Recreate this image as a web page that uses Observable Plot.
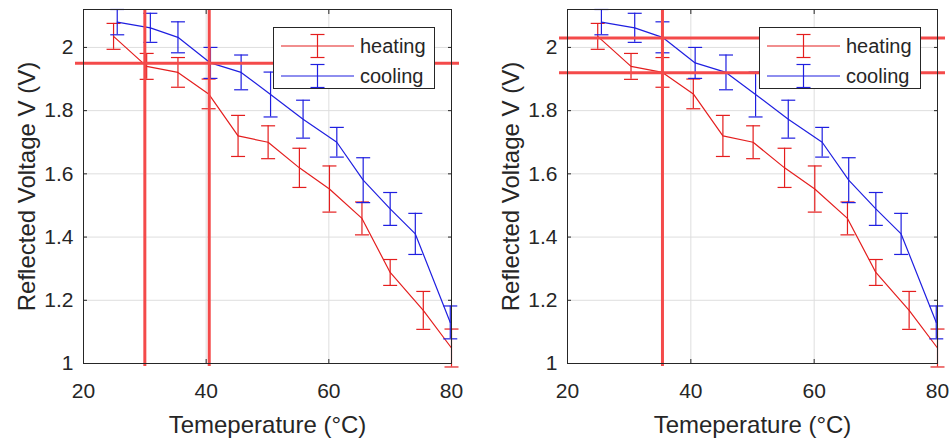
<!DOCTYPE html>
<html><head><meta charset="utf-8">
<script src="https://cdn.jsdelivr.net/npm/d3@7"></script>
<script src="https://cdn.jsdelivr.net/npm/@observablehq/plot@0.6"></script>
<style>
html,body{margin:0;padding:0;background:#fff;}
#wrap{position:relative;width:952px;height:446px;overflow:hidden;font-family:"Liberation Sans",Arial,sans-serif;}
.panel{position:absolute;top:0;width:476px;height:446px;}
.panel svg{overflow:visible;}
.legend{position:absolute;top:27px;width:160px;height:60px;border:1px solid #262626;background:#fff;}
.legend .row{position:absolute;left:7px;height:24px;display:flex;align-items:center;}
.legend .row svg{display:block;}
.legend span{font-size:20px;color:#262626;margin-left:6px;line-height:24px;}
</style></head><body><div id="wrap"></div>
<script>
// ---- data ----
const heatTemp = [24.9, 30.3, 35.4, 40.4, 45.2, 50.1, 55.2, 60.1, 65.4, 70.0, 75.4, 80.0];
const heatVolt = [2.035, 1.94, 1.921, 1.853, 1.72, 1.70, 1.619, 1.552, 1.459, 1.288, 1.168, 1.049];
const heatErr  = [0.041, 0.041, 0.047, 0.047, 0.065, 0.052, 0.062, 0.073, 0.052, 0.041, 0.060, 0.060];

const coolTemp = [25.5, 30.9, 35.4, 40.7, 45.7, 50.5, 55.8, 61.3, 65.6, 70.0, 74.1, 79.8];
const coolVolt = [2.08, 2.062, 2.032, 1.951, 1.921, 1.851, 1.773, 1.70, 1.58, 1.489, 1.41, 1.13];
const coolErr  = [0.040, 0.046, 0.049, 0.049, 0.055, 0.071, 0.060, 0.047, 0.071, 0.052, 0.065, 0.052];

const seriesNames = ["heating", "cooling"];
const xTicks = [20, 40, 60, 80];
const yTicks = [1, 1.2, 1.4, 1.6, 1.8, 2];
const xDomain = [20, 80];
const yDomain = [1, 2.12];

const leftVLines = [30, 40.5];
const leftHLines = [1.95];
const rightVLines = [35.4];
const rightHLines = [2.03, 1.92];

const xLabel = "Temeperature (°C)";
const yLabel = "Reflected Voltage V (V)";

// ---- styles ----
const heatColor = "#e41e1e";
const coolColor = "#1f1fe0";
const refColor = "#f44a4a";
const axisColor = "#262626";
const gridColor = "#dedede";

const heating = heatTemp.map((t, i) => ({t, v: heatVolt[i], lo: heatVolt[i] - heatErr[i], hi: heatVolt[i] + heatErr[i]}));
const cooling = coolTemp.map((t, i) => ({t, v: coolVolt[i], lo: coolVolt[i] - coolErr[i], hi: coolVolt[i] + coolErr[i]}));

const cap = {draw(ctx) { ctx.moveTo(-7, 0); ctx.lineTo(7, 0); }};

function seriesMarks(data, color) {
  return [
    Plot.line(data, {x: "t", y: "v", stroke: color, strokeWidth: 1.2}),
    Plot.ruleX(data, {x: "t", y1: "lo", y2: "hi", stroke: color, strokeWidth: 1.2}),
    Plot.dot(data, {x: "t", y: "lo", symbol: cap, r: 7, stroke: color, fill: "none", strokeWidth: 1.2}),
    Plot.dot(data, {x: "t", y: "hi", symbol: cap, r: 7, stroke: color, fill: "none", strokeWidth: 1.2})
  ];
}

function makePanel(marginLeft, marginRight, vLines, hLines) {
  return Plot.plot({
    width: 476, height: 446,
    marginLeft, marginRight, marginTop: 9, marginBottom: 83,
    style: {fontFamily: "'Liberation Sans', Arial, sans-serif", fontSize: "21px", color: axisColor, background: "white", overflow: "visible"},
    x: {domain: xDomain},
    y: {domain: yDomain},
    marks: [
      Plot.gridX(xTicks, {stroke: gridColor, strokeOpacity: 1}),
      Plot.gridY(yTicks, {stroke: gridColor, strokeOpacity: 1}),
      ...seriesMarks(heating, heatColor),
      ...seriesMarks(cooling, coolColor),
      Plot.ruleX(vLines, {stroke: refColor, strokeWidth: 3, insetBottom: -3}),
      Plot.ruleY(hLines, {stroke: refColor, strokeWidth: 3, insetLeft: -8, insetRight: -8}),
      Plot.frame({stroke: axisColor}),
      Plot.axisX(xTicks, {anchor: "bottom", tickSize: 0, tickPadding: 20, label: null}),
      Plot.axisX(xTicks, {anchor: "bottom", tickSize: -4, fill: "none", label: null}),
      Plot.axisX(xTicks, {anchor: "top", tickSize: -4, fill: "none", label: null}),
      Plot.axisY(yTicks, {anchor: "left", tickSize: 0, tickPadding: 10, label: null, tickFormat: d => String(d)}),
      Plot.axisY(yTicks, {anchor: "left", tickSize: -4, fill: "none", label: null}),
      Plot.axisY(yTicks, {anchor: "right", tickSize: -4, fill: "none", label: null}),
      Plot.text([yLabel], {text: d => d, frameAnchor: "left", textAnchor: "middle", lineAnchor: "middle", rotate: -90, dx: -56, fontSize: 24, fill: axisColor}),
      Plot.text([xLabel], {text: d => d, frameAnchor: "bottom", textAnchor: "middle", lineAnchor: "middle", dy: 62, fontSize: 24, fill: axisColor})
    ]
  });
}

function legendSample(color) {
  const ns = "http://www.w3.org/2000/svg";
  const svg = document.createElementNS(ns, "svg");
  svg.setAttribute("width", 73); svg.setAttribute("height", 24);
  const segs = [[0, 12, 73, 12], [36.5, 0.5, 36.5, 23.5], [29.5, 0.5, 43.5, 0.5], [29.5, 23.5, 43.5, 23.5]];
  for (const [x1, y1, x2, y2] of segs) {
    const l = document.createElementNS(ns, "line");
    l.setAttribute("x1", x1); l.setAttribute("y1", y1); l.setAttribute("x2", x2); l.setAttribute("y2", y2);
    l.setAttribute("stroke", color); l.setAttribute("stroke-width", 1.2);
    svg.appendChild(l);
  }
  return svg;
}

function makeLegend(left) {
  const box = document.createElement("div");
  box.className = "legend";
  box.style.left = left + "px";
  [[seriesNames[0], heatColor, 6], [seriesNames[1], coolColor, 36]].forEach(([name, color, top]) => {
    const row = document.createElement("div");
    row.className = "row";
    row.style.top = top + "px";
    row.appendChild(legendSample(color));
    const s = document.createElement("span");
    s.textContent = name;
    row.appendChild(s);
    box.appendChild(row);
  });
  return box;
}

const wrap = document.getElementById("wrap");
[[0, 83, 25, leftVLines, leftHLines], [476, 91, 15, rightVLines, rightHLines]].forEach(([offset, ml, mr, v, h]) => {
  const panel = document.createElement("div");
  panel.className = "panel";
  panel.style.left = offset + "px";
  panel.appendChild(makePanel(ml, mr, v, h));
  panel.appendChild(makeLegend(476 - mr - 16 - 162));
  wrap.appendChild(panel);
});
</script>
</body></html>
